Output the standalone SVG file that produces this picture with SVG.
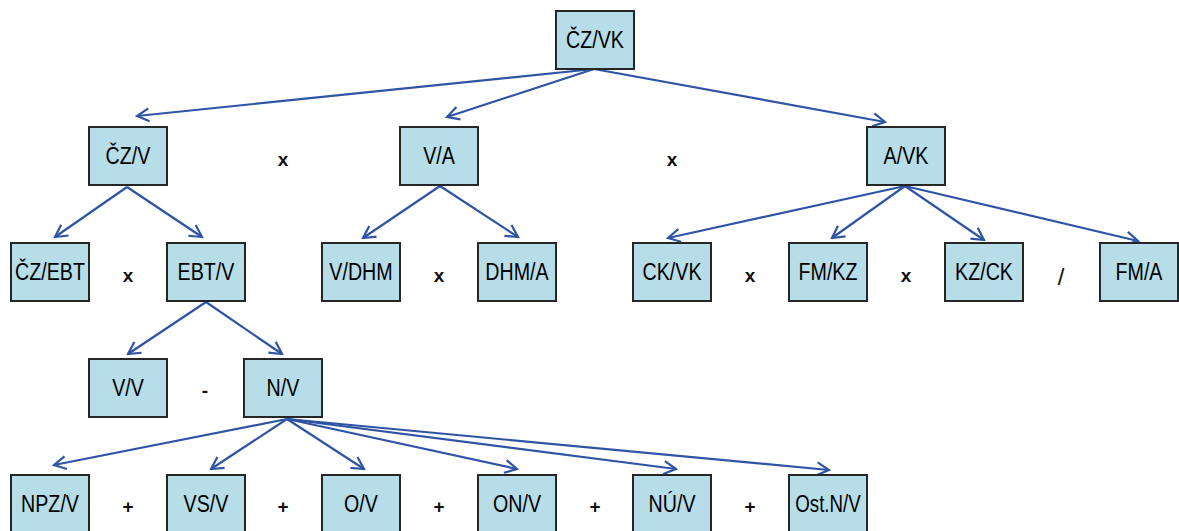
<svg xmlns="http://www.w3.org/2000/svg" width="1179" height="531" viewBox="0 0 1179 531">
<style>
.box{fill:#b7dde8;stroke:#262626;stroke-width:2}
.t{font-family:"Liberation Sans",Arial,sans-serif;font-size:24px;fill:#000;text-anchor:middle}
.op{font-family:"Liberation Sans",Arial,sans-serif;font-size:19px;font-weight:bold;fill:#111;text-anchor:middle}
.c{stroke:#2f54a3;stroke-width:2.2;fill:none;marker-end:url(#ah)}
</style>
<defs>
<marker id="ah" markerUnits="userSpaceOnUse" markerWidth="16" markerHeight="16" viewBox="-14 -8 16 16" refX="0" refY="0" orient="auto">
<path d="M-12,-6.5 L0,0 L-12,6.5" fill="none" stroke="#2f54a3" stroke-width="2.2"/>
</marker>
</defs>
<rect width="1179" height="531" fill="#fff"/>
<g id="connectors">
<line class="c" x1="594" y1="69" x2="137" y2="116"/>
<line class="c" x1="594" y1="69" x2="447" y2="117"/>
<line class="c" x1="594" y1="69" x2="885" y2="122"/>
<line class="c" x1="127" y1="187" x2="55" y2="237"/>
<line class="c" x1="127" y1="187" x2="202" y2="237"/>
<line class="c" x1="440" y1="186" x2="363" y2="238"/>
<line class="c" x1="440" y1="186" x2="518" y2="237"/>
<line class="c" x1="905" y1="186" x2="668" y2="238"/>
<line class="c" x1="905" y1="186" x2="832" y2="238"/>
<line class="c" x1="905" y1="186" x2="984" y2="240"/>
<line class="c" x1="905" y1="186" x2="1138" y2="241"/>
<line class="c" x1="206" y1="302" x2="128" y2="354"/>
<line class="c" x1="206" y1="302" x2="282" y2="354"/>
<line class="c" x1="287" y1="419" x2="54" y2="465"/>
<line class="c" x1="287" y1="419" x2="211" y2="469"/>
<line class="c" x1="287" y1="419" x2="364" y2="469"/>
<line class="c" x1="287" y1="419" x2="517" y2="469"/>
<line class="c" x1="287" y1="419" x2="676" y2="469"/>
<line class="c" x1="287" y1="419" x2="829" y2="470"/>
</g>
<g id="n-czvk"><rect class="box" x="556" y="11" width="78" height="58"/><text class="t" transform="translate(595,48) scale(0.82,1)">ČZ/VK</text></g>
<g id="n-czv"><rect class="box" x="89" y="127" width="78" height="58"/><text class="t" transform="translate(128,164) scale(0.82,1)">ČZ/V</text></g>
<g id="n-va"><rect class="box" x="400" y="127" width="78" height="58"/><text class="t" transform="translate(439,164) scale(0.82,1)">V/A</text></g>
<g id="n-avk"><rect class="box" x="867" y="127" width="78" height="58"/><text class="t" transform="translate(906,164) scale(0.82,1)">A/VK</text></g>
<g id="n-czebt"><rect class="box" x="11" y="243" width="78" height="58"/><text class="t" transform="translate(50,280) scale(0.82,1)">ČZ/EBT</text></g>
<g id="n-ebtv"><rect class="box" x="167" y="243" width="78" height="58"/><text class="t" transform="translate(206,280) scale(0.82,1)">EBT/V</text></g>
<g id="n-vdhm"><rect class="box" x="322" y="243" width="78" height="58"/><text class="t" transform="translate(361,280) scale(0.82,1)">V/DHM</text></g>
<g id="n-dhma"><rect class="box" x="478" y="243" width="78" height="58"/><text class="t" transform="translate(517,280) scale(0.82,1)">DHM/A</text></g>
<g id="n-ckvk"><rect class="box" x="633" y="243" width="78" height="58"/><text class="t" transform="translate(672,280) scale(0.82,1)">CK/VK</text></g>
<g id="n-fmkz"><rect class="box" x="789" y="243" width="78" height="58"/><text class="t" transform="translate(828,280) scale(0.82,1)">FM/KZ</text></g>
<g id="n-kzck"><rect class="box" x="945" y="243" width="78" height="58"/><text class="t" transform="translate(984,280) scale(0.82,1)">KZ/CK</text></g>
<g id="n-fma"><rect class="box" x="1100" y="243" width="78" height="58"/><text class="t" transform="translate(1139,280) scale(0.82,1)">FM/A</text></g>
<g id="n-vv"><rect class="box" x="89" y="359" width="78" height="58"/><text class="t" transform="translate(128,396) scale(0.82,1)">V/V</text></g>
<g id="n-nv"><rect class="box" x="244" y="359" width="78" height="58"/><text class="t" transform="translate(283,396) scale(0.82,1)">N/V</text></g>
<g id="n-npzv"><rect class="box" x="11" y="475" width="78" height="58"/><text class="t" transform="translate(50,512) scale(0.82,1)">NPZ/V</text></g>
<g id="n-vsv"><rect class="box" x="167" y="475" width="78" height="58"/><text class="t" transform="translate(206,512) scale(0.82,1)">VS/V</text></g>
<g id="n-ov"><rect class="box" x="322" y="475" width="78" height="58"/><text class="t" transform="translate(361,512) scale(0.82,1)">O/V</text></g>
<g id="n-onv"><rect class="box" x="478" y="475" width="78" height="58"/><text class="t" transform="translate(517,512) scale(0.82,1)">ON/V</text></g>
<g id="n-nuv"><rect class="box" x="633" y="475" width="78" height="58"/><text class="t" transform="translate(672,512) scale(0.82,1)">NÚ/V</text></g>
<g id="n-ostnv"><rect class="box" x="789" y="475" width="78" height="58"/><text class="t" transform="translate(828,512) scale(0.78,1)">Ost.N/V</text></g>
<g id="ops">
<text class="op" x="283" y="166">x</text>
<text class="op" x="672" y="166">x</text>
<text class="op" x="128" y="282">x</text>
<text class="op" x="439" y="282">x</text>
<text class="op" x="750" y="282">x</text>
<text class="op" x="906" y="282">x</text>
<text class="op" x="1061" y="285" style="font-size:24px;font-weight:normal">/</text>
<text class="op" x="205" y="397">-</text>
<text class="op" x="128" y="513">+</text>
<text class="op" x="283" y="513">+</text>
<text class="op" x="439" y="513">+</text>
<text class="op" x="595" y="513">+</text>
<text class="op" x="750" y="513">+</text>
</g>
</svg>
